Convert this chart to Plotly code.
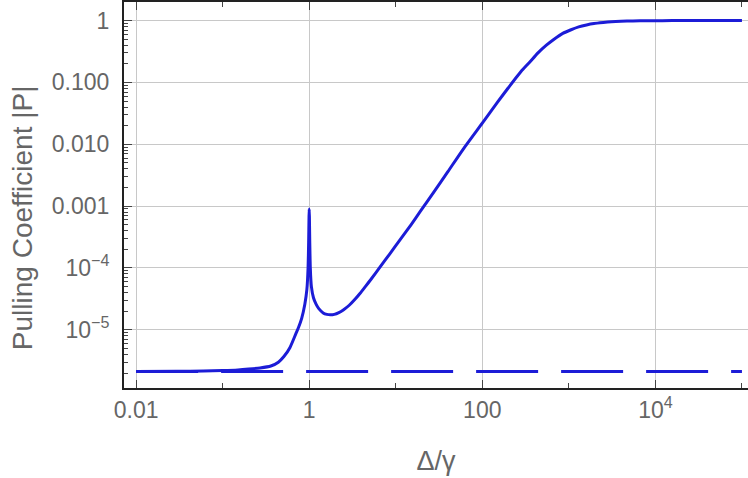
import plotly.graph_objects as go

# Pulling coefficient |P| vs detuning Δ/γ
x_curve = [0.01, 0.03, 0.06, 0.1, 0.15, 0.2, 0.27, 0.36, 0.44, 0.51, 0.6, 0.7, 0.75,
           0.82, 0.89, 0.94, 0.97, 0.985, 0.995, 1.0, 1.005, 1.015, 1.03, 1.06, 1.12,
           1.2, 1.29, 1.45, 1.6, 1.75, 1.95, 2.2, 2.5, 2.9, 3.4, 3.9, 4.5, 5.1, 6.6,
           8.5, 11.3, 15, 19.2, 27, 40, 60, 100, 150, 200, 280, 350, 440, 550, 675,
           850, 1060, 1300, 1600, 1950, 2500, 3100, 4000, 5500, 8000, 12000, 20000,
           50000, 100000]
p_curve = [2.13e-6, 2.14e-6, 2.16e-6, 2.2e-6, 2.25e-6, 2.32e-6, 2.42e-6, 2.6e-6,
           3.0e-6, 3.7e-6, 5.2e-6, 8.6e-6, 1.08e-5, 1.55e-5, 2.6e-5, 4.5e-5, 1.0e-4,
           2.6e-4, 6.8e-4, 9.0e-4, 6.8e-4, 2.6e-4, 1.0e-4, 5.0e-5, 3.3e-5, 2.6e-5,
           2.2e-5, 1.88e-5, 1.78e-5, 1.75e-5, 1.78e-5, 1.9e-5, 2.12e-5, 2.5e-5,
           3.15e-5, 3.95e-5, 5.1e-5, 6.4e-5, 1.04e-4, 1.68e-4, 2.9e-4, 5.0e-4, 8.2e-4,
           1.62e-3, 3.6e-3, 8.3e-3, 0.022, 0.048, 0.082, 0.15, 0.21, 0.30, 0.40,
           0.50, 0.62, 0.71, 0.79, 0.85, 0.895, 0.93, 0.955, 0.973, 0.985, 0.993,
           0.997, 0.999, 1.0, 1.0]

x_floor = [0.01, 100000]
p_floor = [2.12e-6, 2.12e-6]

x_tickvals = [0.01, 1, 100, 1e4]
x_ticktext = ["0.01", "1", "100", "10<sup>4</sup>"]
x_minorvals = [0.1, 10, 1000, 1e5]

y_tickvals = [1e-5, 1e-4, 1e-3, 1e-2, 1e-1, 1]
y_ticktext = ["10<sup>\u22125</sup>", "10<sup>\u22124</sup>", "0.001", "0.010", "0.100", "1"]
y_minorvals = [m * 10.0 ** e for e in range(-6, 1) for m in range(2, 10)]

blue = "rgb(28,28,215)"
tick_font = dict(family="Liberation Sans, Arial, sans-serif", size=23, color="#666666")
title_font = dict(family="Liberation Sans, Arial, sans-serif", size=27, color="#666666")

fig = go.Figure()
fig.add_trace(go.Scatter(x=x_floor, y=p_floor, mode="lines",
                         line=dict(color=blue, width=3, dash="62px,23px"),
                         showlegend=False, hoverinfo="skip"))
fig.add_trace(go.Scatter(x=x_curve, y=p_curve, mode="lines",
                         line=dict(color=blue, width=3, shape="spline", smoothing=0.6),
                         showlegend=False))

fig.update_layout(
    width=748, height=478,
    margin=dict(l=124, r=0, t=2, b=90),
    paper_bgcolor="white", plot_bgcolor="white",
    xaxis=dict(type="log", range=[-2.14, 5.07],
               tickmode="array", tickvals=x_tickvals, ticktext=x_ticktext,
               ticks="inside", ticklen=8, tickwidth=1, tickcolor="#444",
               showgrid=True, gridcolor="#c8c8c8", gridwidth=1,
               showline=True, linecolor="#222", linewidth=2, mirror="allticks",
               zeroline=False, tickfont=tick_font,
               minor=dict(tickmode="array", tickvals=x_minorvals, ticks="inside",
                          ticklen=5, tickcolor="#444", showgrid=False),
               title=dict(text="\u0394/\u03b3", font=title_font, standoff=30)),
    yaxis=dict(type="log", range=[-5.94, 0.30],
               tickmode="array", tickvals=y_tickvals, ticktext=y_ticktext,
               ticks="inside", ticklen=8, tickwidth=1, tickcolor="#444",
               showgrid=True, gridcolor="#c8c8c8", gridwidth=1,
               showline=True, linecolor="#222", linewidth=2, mirror=False,
               zeroline=False, tickfont=tick_font, ticklabelstandoff=8,
               minor=dict(tickmode="array", tickvals=y_minorvals, ticks="inside",
                          ticklen=4, tickcolor="#444", showgrid=False)),
    annotations=[dict(text="Pulling Coefficient |P|", textangle=-90,
                      xref="paper", yref="paper", x=0, y=0.44,
                      xanchor="center", yanchor="middle", xshift=-102,
                      showarrow=False, font=dict(title_font, size=28))],
)

fig.write_html("out.html")
